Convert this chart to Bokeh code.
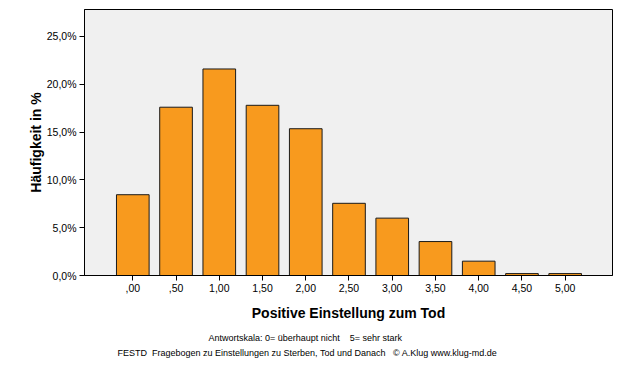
from bokeh.plotting import figure
from bokeh.models import FixedTicker, Range1d, Title
from bokeh.embed import file_html
from bokeh.resources import INLINE

categories = [",00", ",50", "1,00", "1,50", "2,00", "2,50", "3,00", "3,50", "4,00", "4,50", "5,00"]
percent = [8.45, 17.6, 21.6, 17.8, 15.35, 7.55, 6.0, 3.55, 1.5, 0.2, 0.2]
y_ticks = [0, 5, 10, 15, 20, 25]
y_tick_labels = ["0,0%", "5,0%", "10,0%", "15,0%", "20,0%", "25,0%"]
x_title = "Positive Einstellung zum Tod"
y_title = "Häufigkeit in %"
NB = "\u00a0"
note1 = "Antwortskala: 0= überhaupt nicht" + NB * 4 + "5= sehr stark"
note2 = ("FESTD" + NB * 2 + "Fragebogen zu Einstellungen zu Sterben, Tod und Danach"
         + NB * 3 + "© A.Klug www.klug-md.de")

xs = list(range(len(categories)))
FONT = "Liberation Sans"

p = figure(width=618, height=358, output_backend="svg", toolbar_location=None,
           x_range=Range1d(-1.117, len(categories) - 1 + 1.094),
           y_range=Range1d(0, 27.82),
           min_border_left=84, min_border_right=6, min_border_top=9, min_border_bottom=83)

p.vbar(x=xs, top=percent, width=0.755, fill_color="#f89a1e", line_color="#1a1a1a", line_width=1)

p.background_fill_color = "#f0f0f0"
p.border_fill_color = "white"
p.outline_line_color = "black"
p.outline_line_width = 1
p.xgrid.visible = False
p.ygrid.visible = False

p.xaxis.ticker = FixedTicker(ticks=xs)
p.xaxis.major_label_overrides = {x: c for x, c in zip(xs, categories)}
p.yaxis.ticker = FixedTicker(ticks=y_ticks)
p.yaxis.major_label_overrides = {t: l for t, l in zip(y_ticks, y_tick_labels)}

for ax in (p.xaxis[0], p.yaxis[0]):
    ax.axis_line_color = "black"
    ax.major_tick_line_color = "black"
    ax.major_tick_out = 5
    ax.major_tick_in = 0
    ax.minor_tick_line_color = None
    ax.major_label_text_font = FONT
    ax.major_label_text_font_size = "10.5px"
    ax.major_label_text_color = "black"
    ax.axis_label_text_font = FONT
    ax.axis_label_text_font_size = "14px"
    ax.axis_label_text_font_style = "bold"
    ax.axis_label_text_color = "black"
    ax.major_label_standoff = 3

p.xaxis.axis_label = x_title
p.yaxis.axis_label = y_title
p.xaxis.axis_label_standoff = 10
p.yaxis.axis_label_standoff = 0

for txt, off, so in ((note1, 124, 14), (note2, 33, -8)):
    p.add_layout(Title(text=txt, align="left", offset=off, standoff=so,
                       text_font=FONT, text_font_size="9px", text_font_style="normal",
                       text_color="black"), "below")

open("out.html", "w").write(file_html(p, INLINE))
